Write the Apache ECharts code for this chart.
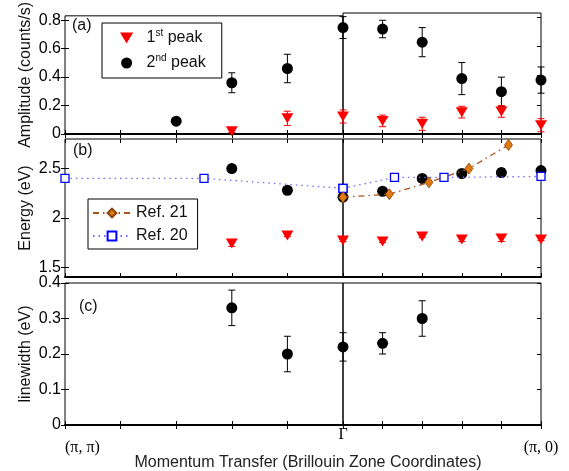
<!DOCTYPE html>
<html>
<head>
<meta charset="utf-8">
<script src="https://cdn.jsdelivr.net/npm/echarts@6/dist/echarts.min.js"></script>
<style>
  html, body { margin: 0; padding: 0; background: #fff; }
  #chart { width: 569px; height: 471px; }
</style>
</head>
<body>
<div id="chart"></div>
<script>
// path coordinate: (pi,pi) = 0, Gamma = 5, (pi,0) = 10 (tick units, each half drawn in its own box)
const GAMMA = 5;
const leftTicks = [0, 1, 2, 3, 4, 5];
const rightTicks = [5, 6, 7, 8, 9, 10];

// (a) amplitude
const peak2AmpX = [2, 3, 4, 5, 6, 7, 8, 9, 10];
const peak2Amp = [0.09, 0.36, 0.46, 0.73, 0.72, 0.63, 0.38, 0.29, 0.37];
const peak2AmpErr = [0.01, 0.07, 0.10, 0.075, 0.06, 0.10, 0.11, 0.10, 0.09];
const peak1AmpX = [3, 4, 5, 6, 7, 8, 9, 10];
const peak1Amp = [0.02, 0.11, 0.12, 0.09, 0.07, 0.15, 0.155, 0.06];
const peak1AmpErr = [0.01, 0.05, 0.045, 0.04, 0.045, 0.04, 0.04, 0.045];
const ampTicks = [0, 0.2, 0.4, 0.6, 0.8];

// (b) energy
const energyX = [3, 4, 5, 6, 7, 8, 9, 10];
const peak2Energy = [2.50, 2.28, 2.21, 2.27, 2.40, 2.45, 2.46, 2.48];
const peak2EnergyErr = [0.01, 0.01, 0.01, 0.01, 0.01, 0.02, 0.04, 0.02];
const peak1Energy = [1.74, 1.82, 1.77, 1.76, 1.81, 1.78, 1.79, 1.78];
const peak1EnergyErr = [0.03, 0.01, 0.01, 0.01, 0.01, 0.02, 0.03, 0.01];
const ref21X = [5, 6.17, 7.17, 8.18, 9.18];
const ref21E = [2.21, 2.24, 2.36, 2.50, 2.74];
const ref20X = [0, 2.5, 5, 6.3, 7.55, 10];
const ref20E = [2.40, 2.40, 2.30, 2.41, 2.41, 2.42];
const energyTicks = [1.5, 2, 2.5];

// (c) linewidth
const lwX = [3, 4, 5, 6, 7];
const lw = [0.33, 0.20, 0.22, 0.23, 0.30];
const lwErr = [0.05, 0.05, 0.04, 0.03, 0.05];
const lwTicks = [0, 0.1, 0.2, 0.3, 0.4];

const FONT = "'Liberation Sans', Arial, sans-serif";
const SERIF = "'Liberation Serif', 'Times New Roman', serif";
const DOWN_TRIANGLE = 'path://M0,0 L12,0 L6,10 Z';

const panelTop = [13, 139, 283];
const panelHeight = [121, 138, 142];
const boxLeft = [65, 343];
const boxWidth = [278, 198];
const yRange = [[0, 0.83], [1.4, 2.8], [0, 0.4]];
const yTicks = [ampTicks, energyTicks, lwTicks];
const yNames = ['Amplitude (counts/s)', 'Energy (eV)', 'linewidth (eV)'];

function pts(xs, ys) { return xs.map((x, i) => [x, ys[i]]); }
function bars(xs, ys, es) { return xs.map((x, i) => [x, ys[i] - es[i], ys[i] + es[i]]); }
function pick(data, side, inclusive) {
  return data.filter(d => side === 0 ? (inclusive ? d[0] <= GAMMA : d[0] < GAMMA) : d[0] >= GAMMA);
}

function errRender(color) {
  return function (params, api) {
    const x = api.value(0);
    const lo = api.coord([x, api.value(1)]);
    const hi = api.coord([x, api.value(2)]);
    const w = 3.5;
    const style = { stroke: color, lineWidth: 1 };
    return {
      type: 'group',
      children: [
        { type: 'line', shape: { x1: hi[0], y1: hi[1], x2: lo[0], y2: lo[1] }, style },
        { type: 'line', shape: { x1: hi[0] - w, y1: hi[1], x2: hi[0] + w, y2: hi[1] }, style },
        { type: 'line', shape: { x1: lo[0] - w, y1: lo[1], x2: lo[0] + w, y2: lo[1] }, style }
      ]
    };
  };
}

const grid = [], xAxis = [], yAxis = [], series = [];

for (let p = 0; p < 3; p++) {
  for (let s = 0; s < 2; s++) {
    const g = p * 2 + s;
    grid.push({
      left: boxLeft[s], top: panelTop[p], width: boxWidth[s], height: panelHeight[p],
      show: true, borderColor: '#000', borderWidth: 1, backgroundColor: 'transparent'
    });
    const ticks = s === 0 ? leftTicks : rightTicks;
    let label = { show: false };
    if (p === 2 && s === 0) {
      label = {
        show: true, customValues: [0], formatter: () => '(π, π)', align: 'left',
        margin: 15, fontFamily: SERIF, fontSize: 16, color: '#000'
      };
    } else if (p === 2 && s === 1) {
      label = {
        show: true, customValues: [5, 10], margin: 2, color: '#000',
        formatter: v => v === 5 ? '{g|Γ}' : '{p|(π, 0)}',
        rich: {
          g: { fontFamily: SERIF, fontSize: 16, color: '#000' },
          p: { fontFamily: SERIF, fontSize: 16, color: '#000', padding: [13, 0, 0, 0] }
        }
      };
    }
    xAxis.push({
      gridIndex: g, type: 'value', position: 'bottom', min: ticks[0], max: ticks[5],
      axisLine: { onZero: false, lineStyle: { color: '#000', width: 2 } },
      axisTick: { inside: true, length: 4, customValues: ticks, lineStyle: { color: '#000' } },
      axisLabel: label,
      splitLine: { show: false }
    });
    xAxis.push({
      gridIndex: g, type: 'value', position: 'top', min: ticks[0], max: ticks[5],
      axisLine: { show: false },
      axisTick: { inside: true, length: 4, customValues: ticks, lineStyle: { color: '#000' } },
      axisLabel: { show: false },
      splitLine: { show: false }
    });
    yAxis.push({
      gridIndex: g, type: 'value', position: 'left', min: yRange[p][0], max: yRange[p][1],
      name: s === 0 ? yNames[p] : '', nameLocation: 'middle', nameGap: 31,
      nameTextStyle: { fontFamily: FONT, fontSize: 16, color: '#111' },
      axisLine: { show: false },
      axisTick: { show: s === 0, inside: true, length: 4, customValues: yTicks[p], lineStyle: { color: '#000' } },
      axisLabel: { show: s === 0, customValues: yTicks[p], margin: 4, fontFamily: FONT, fontSize: 16, color: '#000' },
      splitLine: { show: false }
    });
    yAxis.push({
      gridIndex: g, type: 'value', position: 'right', min: yRange[p][0], max: yRange[p][1],
      axisLine: { show: false },
      axisTick: { inside: true, length: 4, customValues: yTicks[p], lineStyle: { color: '#000' } },
      axisLabel: { show: false },
      splitLine: { show: false }
    });
  }
}

function addErr(g, data, color) {
  series.push({
    type: 'custom', xAxisIndex: g * 2, yAxisIndex: g * 2, clip: false,
    renderItem: errRender(color), encode: { x: 0, y: [1, 2] }, data, silent: true
  });
}
function addScatter(g, name, data, kind) {
  const red = kind === 'red';
  series.push({
    type: 'scatter', name, xAxisIndex: g * 2, yAxisIndex: g * 2, clip: false, data,
    symbol: red ? DOWN_TRIANGLE : 'circle',
    symbolSize: red ? [12, 10] : 11,
    itemStyle: { color: red ? '#ff0000' : '#000', opacity: 1 }
  });
}

for (let s = 0; s < 2; s++) {
  // (a)
  let g = s;
  addErr(g, pick(bars(peak2AmpX, peak2Amp, peak2AmpErr), s), '#000');
  addErr(g, pick(bars(peak1AmpX, peak1Amp, peak1AmpErr), s), '#ff0000');
  addScatter(g, '1st peak', pick(pts(peak1AmpX, peak1Amp), s), 'red');
  addScatter(g, '2nd peak', pick(pts(peak2AmpX, peak2Amp), s), 'black');
  // (b)
  g = 2 + s;
  addErr(g, pick(bars(energyX, peak2Energy, peak2EnergyErr), s), '#000');
  addErr(g, pick(bars(energyX, peak1Energy, peak1EnergyErr), s), '#ff0000');
  addScatter(g, '1st peak', pick(pts(energyX, peak1Energy), s), 'red');
  addScatter(g, '2nd peak', pick(pts(energyX, peak2Energy), s), 'black');
  series.push({
    type: 'line', name: 'Ref. 20', xAxisIndex: g * 2, yAxisIndex: g * 2,
    data: pick(pts(ref20X, ref20E), s, true),
    symbol: 'rect', symbolSize: 8, showAllSymbol: true,
    lineStyle: { color: '#6f6fff', width: 1.3, type: [1.5, 4] },
    itemStyle: { color: '#fff', borderColor: '#0000ff', borderWidth: 1.3 }
  });
  series.push({
    type: 'line', name: 'Ref. 21', xAxisIndex: g * 2, yAxisIndex: g * 2,
    data: pick(pts(ref21X, ref21E), s, true),
    symbol: 'diamond', symbolSize: [8, 11], showAllSymbol: true,
    lineStyle: { color: '#a8541c', width: 1.3, type: [6, 4, 1.5, 4] },
    itemStyle: { color: '#e07a0c', borderColor: '#8a4210', borderWidth: 0.8 }
  });
  // (c)
  g = 4 + s;
  addErr(g, pick(bars(lwX, lw, lwErr), s), '#000');
  addScatter(g, '2nd peak', pick(pts(lwX, lw), s), 'black');
}

const chart = echarts.init(document.getElementById('chart'), null, { renderer: 'canvas' });
chart.setOption({
  animation: false,
  backgroundColor: '#fff',
  textStyle: { fontFamily: FONT },
  title: [
    { text: '(a)', left: 72, top: 18, padding: 0, textStyle: { fontFamily: FONT, fontSize: 16, fontWeight: 'normal', color: '#111' } },
    { text: '(b)', left: 73, top: 143, padding: 0, textStyle: { fontFamily: FONT, fontSize: 16, fontWeight: 'normal', color: '#111' } },
    { text: '(c)', left: 79, top: 299, padding: 0, textStyle: { fontFamily: FONT, fontSize: 16, fontWeight: 'normal', color: '#111' } },
    { text: 'Momentum Transfer (Brillouin Zone Coordinates)', left: 308, top: 455, textAlign: 'center', padding: 0,
      textStyle: { fontFamily: FONT, fontSize: 16, fontWeight: 'normal', color: '#222' } }
  ],
  legend: [
    {
      data: [{ name: '1st peak', icon: DOWN_TRIANGLE }, { name: '2nd peak', icon: 'circle' }],
      orient: 'vertical', left: 102, top: 23,
      padding: [5, 16, 5, 18], itemGap: 5, itemWidth: 30, itemHeight: 11,
      borderColor: '#000', borderWidth: 1, backgroundColor: '#fff', selectedMode: false,
      formatter: n => n === '1st peak' ? '1{sup|st} peak' : '2{sup|nd} peak',
      textStyle: {
        fontFamily: FONT, fontSize: 16, color: '#111', lineHeight: 20,
        rich: { sup: { fontFamily: FONT, fontSize: 10, verticalAlign: 'top', lineHeight: 20, padding: [0, 0, 8, 0] } }
      }
    },
    {
      data: ['Ref. 21', 'Ref. 20'], orient: 'vertical', left: 88, top: 199,
      padding: [5, 10, 4, 4], itemGap: 5, itemWidth: 38, itemHeight: 11,
      borderColor: '#000', borderWidth: 1, backgroundColor: '#fff', selectedMode: false,
      textStyle: { fontFamily: FONT, fontSize: 16, color: '#111', lineHeight: 18 }
    }
  ],
  grid, xAxis, yAxis, series
});
</script>
</body>
</html>
